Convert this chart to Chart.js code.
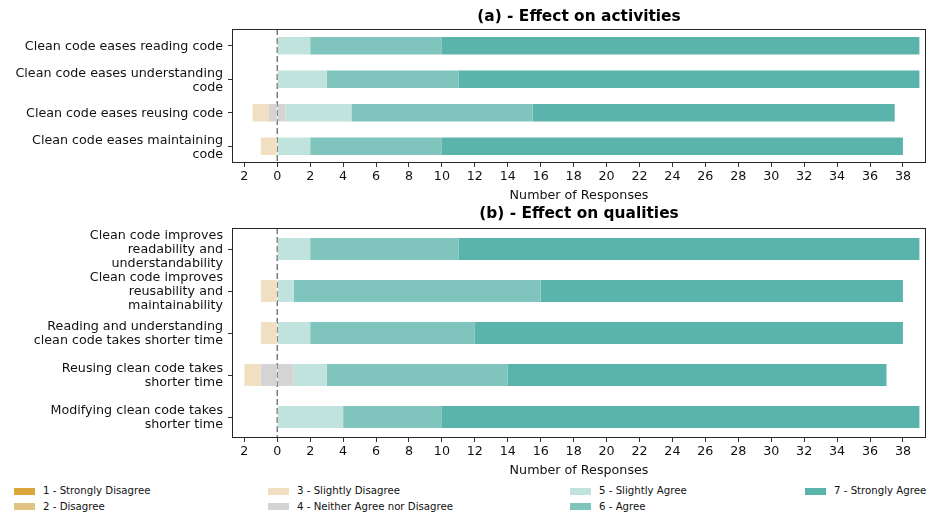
<!DOCTYPE html>
<html>
<head>
<meta charset="utf-8">
<script src="https://cdn.jsdelivr.net/npm/chart.js@4.4.1/dist/chart.umd.min.js"></script>
<style>
  html, body { margin: 0; padding: 0; background: #fff; }
  body { width: 928px; height: 516px; position: relative; overflow: hidden; font-family: 'DejaVu Sans', sans-serif; }
  #c1 { position: absolute; left: 0; top: 0; }
  #c2 { position: absolute; left: 0; top: 205px; }
  #legend { position: absolute; left: 0; top: 480px; width: 928px; height: 36px; }
  .li { position: absolute; font-size: 10.2px; color: #111; line-height: 12px; height: 12px; white-space: nowrap; }
  .sw { position: absolute; width: 21px; height: 7px; top: 2.5px; left: 0; }
  .lt { position: absolute; left: 29px; top: 0; }
</style>
</head>
<body>
<canvas id="c1" width="928" height="205"></canvas>
<canvas id="c2" width="928" height="275"></canvas>
<div id="legend"></div>
<script>
// ---------- data ----------
const likertLabels = ['1 - Strongly Disagree', '2 - Disagree', '3 - Slightly Disagree',
  '4 - Neither Agree nor Disagree', '5 - Slightly Agree', '6 - Agree', '7 - Strongly Agree'];

const xTickValues = [-2, 0, 2, 4, 6, 8, 10, 12, 14, 16, 18, 20, 22, 24, 26, 28, 30, 32, 34, 36, 38];

const activityRows = ['Clean code eases reading code', ['Clean code eases understanding', 'code'],
  'Clean code eases reusing code', ['Clean code eases maintaining', 'code']];
const activityStronglyDisagree = [0, 0, 0, 0];
const activityDisagree = [0, 0, 0, 0];
const activitySlightlyDisagree = [0, 0, 1, 1];
const activityNeutral = [0, 0, 1, 0];
const activitySlightlyAgree = [2, 3, 4, 2];
const activityAgree = [8, 8, 11, 8];
const activityStronglyAgree = [29, 28, 22, 28];

const qualityRows = [['Clean code improves', 'readability and', 'understandability'],
  ['Clean code improves', 'reusability and', 'maintainability'],
  ['Reading and understanding', 'clean code takes shorter time'],
  ['Reusing clean code takes', 'shorter time'],
  ['Modifying clean code takes', 'shorter time']];
const qualityStronglyDisagree = [0, 0, 0, 0, 0];
const qualityDisagree = [0, 0, 0, 0, 0];
const qualitySlightlyDisagree = [0, 1, 1, 1, 0];
const qualityNeutral = [0, 0, 0, 2, 0];
const qualitySlightlyAgree = [2, 1, 2, 2, 4];
const qualityAgree = [9, 15, 10, 11, 6];
const qualityStronglyAgree = [28, 22, 26, 23, 29];

// ---------- style ----------
const palette = ['#dba73c', '#e2c482', '#f0e0c1', '#d4d4d4', '#c0e3de', '#7fc4bd', '#5ab4ac'];

Chart.defaults.font.family = "'DejaVu Sans', sans-serif";
Chart.defaults.color = '#111';

function neg(arr) { return arr.map(v => -v); }
function half(arr, sign) { return arr.map(v => sign * v / 2); }

function buildDatasets(sd, dis, sld, neu, sa, agr, sta) {
  const mk = (label, data, color) => ({ label, data, backgroundColor: color, borderWidth: 0,
    barPercentage: 0.52, categoryPercentage: 1.0 });
  return [
    mk(likertLabels[3], half(neu, -1), palette[3]),
    mk(likertLabels[2], neg(sld), palette[2]),
    mk(likertLabels[1], neg(dis), palette[1]),
    mk(likertLabels[0], neg(sd), palette[0]),
    mk(likertLabels[3], half(neu, 1), palette[3]),
    mk(likertLabels[4], sa, palette[4]),
    mk(likertLabels[5], agr, palette[5]),
    mk(likertLabels[6], sta, palette[6])
  ];
}

const framePlugin = {
  id: 'frame',
  beforeDatasetsDraw(chart) {
    const ctx = chart.ctx, a = chart.chartArea;
    const x0 = chart.scales.x.getPixelForValue(0);
    ctx.save();
    ctx.strokeStyle = '#7a7a7a';
    ctx.lineWidth = 1.5;
    ctx.setLineDash([6, 3]);
    ctx.beginPath();
    ctx.moveTo(x0, a.top);
    ctx.lineTo(x0, a.bottom);
    ctx.stroke();
    ctx.restore();
  },
  afterDraw(chart, args, opts) {
    const ctx = chart.ctx, a = chart.chartArea;
    ctx.save();
    ctx.strokeStyle = '#262626';
    ctx.lineWidth = 1;
    ctx.strokeRect(a.left + 0.5, a.top + 0.5, a.right - a.left - 1, a.bottom - a.top - 1);
    ctx.fillStyle = '#000';
    ctx.font = "bold 15.4px 'DejaVu Sans', sans-serif";
    ctx.textAlign = 'center';
    ctx.textBaseline = 'middle';
    ctx.fillText(opts.text, (a.left + a.right) / 2, a.top - opts.offset);
    ctx.restore();
  }
};

function makeChart(id, rows, datasets, title, titleOffset, topPad, canvasH, plotBottom) {
  return new Chart(document.getElementById(id), {
    type: 'bar',
    data: { labels: rows, datasets },
    plugins: [framePlugin],
    options: {
      indexAxis: 'y',
      responsive: false,
      animation: false,
      devicePixelRatio: 1,
      layout: { padding: { top: topPad, right: 2, left: 0, bottom: 0 } },
      plugins: { legend: { display: false }, tooltip: { enabled: false }, frame: { text: title, offset: titleOffset } },
      scales: {
        x: {
          type: 'linear', stacked: true, min: -2.75, max: 39.4,
          afterBuildTicks: s => { s.ticks = xTickValues.map(v => ({ value: v })); },
          afterFit: s => { s.height = canvasH - plotBottom; },
          ticks: { autoSkip: false, maxRotation: 0, padding: 2, font: { size: 12.7 }, color: '#111',
            callback: v => String(Math.abs(v)) },
          grid: { display: true, drawOnChartArea: false, drawTicks: true, tickLength: 4, color: '#333', tickWidth: 1 },
          border: { display: false },
          title: { display: true, text: 'Number of Responses', font: { size: 12.7 }, color: '#111', padding: { top: 0, bottom: 1.5 } }
        },
        y: {
          stacked: true,
          afterFit: s => { s.width = 232; },
          ticks: { padding: 5, labelOffset: 1, font: { size: 12.7, lineHeight: 1.1 }, color: '#111', autoSkip: false },
          grid: { display: true, offset: false, drawOnChartArea: false, drawTicks: true, tickLength: 4, color: '#333' },
          border: { display: false }
        }
      }
    }
  });
}

makeChart('c1', activityRows,
  buildDatasets(activityStronglyDisagree, activityDisagree, activitySlightlyDisagree, activityNeutral,
    activitySlightlyAgree, activityAgree, activityStronglyAgree),
  '(a) - Effect on activities', 12, 29, 205, 163);

makeChart('c2', qualityRows,
  buildDatasets(qualityStronglyDisagree, qualityDisagree, qualitySlightlyDisagree, qualityNeutral,
    qualitySlightlyAgree, qualityAgree, qualityStronglyAgree),
  '(b) - Effect on qualities', 14.5, 23, 275, 233);

// ---------- legend (column-major, 2 rows) ----------
const legendCols = [14, 268, 570, 805];
const legendRowsY = [5, 20.5];
const legendEl = document.getElementById('legend');
likertLabels.forEach((lab, i) => {
  const item = document.createElement('div');
  item.className = 'li';
  item.style.left = legendCols[Math.floor(i / 2)] + 'px';
  item.style.top = legendRowsY[i % 2] + 'px';
  const sw = document.createElement('div');
  sw.className = 'sw';
  sw.style.background = palette[i];
  const t = document.createElement('div');
  t.className = 'lt';
  t.textContent = lab;
  item.appendChild(sw);
  item.appendChild(t);
  legendEl.appendChild(item);
});
</script>
</body>
</html>
